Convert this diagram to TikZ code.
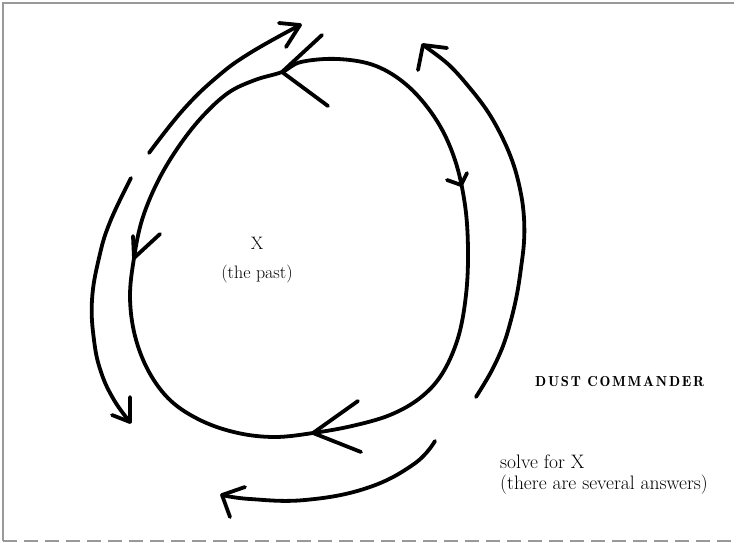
\documentclass[tikz,border=0pt]{standalone}
\usepackage{fontspec}
\newfontfamily\spacedfont{lmromandemi10-regular.otf}[LetterSpace=12]
\usetikzlibrary{positioning}
\tikzset{
  pen/.style={line width=3.8pt,line cap=round,line join=round},
  txt/.style={font=\fontsize{19.5}{23}\selectfont,inner sep=0pt},
  midtxt/.style={font=\fontsize{18}{22}\selectfont,inner sep=0pt},
  caps/.style={font=\spacedfont\fontsize{14.5}{16}\selectfont,inner sep=0pt},
  scanframe/.style={draw=black!40,line width=1.2pt}
}
\begin{document}
\begin{tikzpicture}[x=1pt,y=-1pt]
  \useasboundingbox (0,0) rectangle (737,543);
  % scanned page edge
  \draw[scanframe] (3,541) -- (3,3) -- (734,3);
  \draw[scanframe,dash pattern=on 14pt off 7pt] (3,541) -- (734,541);

  % the loop
  \draw[pen] plot[smooth cycle,tension=0.6] coordinates {
    (282,72) (301,62) (338,59) (376,66) (409,87) (437,121) (455,160)
    (465,205) (468,250) (466,295) (458,338) (442,374) (420,398)
    (390,415) (352,426) (313,433) (275,437) (238,433) (202,421)
    (171,401) (149,372) (135,336) (130,297) (134,258) (142,220)
    (157,183) (177,149) (201,118) (228,93) (255,80)};
  \coordinate (toptip) at (282,72);
  \coordinate (righttip) at (461,185);
  \coordinate (bottomtip) at (313,433);
  \coordinate (lefttip) at (134,258);
  \draw[pen] (toptip) -- ++(40,-37) (toptip) -- ++(46,34);
  \draw[pen] (righttip) -- ++(6,-12) (righttip) -- ++(-14,-5);
  \draw[pen] (bottomtip) -- ++(45,-32) (bottomtip) -- ++(48,19);
  \draw[pen] (lefttip) -- ++(-1,-22) (lefttip) -- ++(26,-24);

  % outer arrows
  \draw[pen] plot[smooth,tension=0.7] coordinates {
    (149,153) (183,110) (217,77) (250,53) (300,25)};
  \coordinate (nwtip) at (300,25);
  \draw[pen] (nwtip) -- ++(-21,-2) (nwtip) -- ++(-14,22);

  \draw[pen] plot[smooth,tension=0.6] coordinates {
    (476,397) (491,372) (503,346) (511,320) (517,294) (521,268)
    (524,242) (524,218) (521,194) (514,166) (503,139) (488,112)
    (469,87) (448,64) (423,45)};
  \coordinate (netip) at (423,45);
  \draw[pen] (netip) -- ++(24,3) (netip) -- ++(-5,25);

  \draw[pen] plot[smooth,tension=0.7] coordinates {
    (131,178) (110,222) (99,258) (92,300) (94,340) (101,372)
    (114,400) (130,422)};
  \coordinate (swtip) at (130,422);
  \draw[pen] (swtip) -- ++(0,-25) (swtip) -- ++(-18,-7);

  \draw[pen] plot[smooth,tension=0.7] coordinates {
    (435,441) (414,464) (367,488) (305,500) (250,499) (222,495)};
  \coordinate (stip) at (222,495);
  \draw[pen] (stip) -- ++(23,-8) (stip) -- ++(8,22);

  % texts
  \node[midtxt,anchor=base] (x) at (257,249) {X};
  \node[midtxt,anchor=base] (past) at ([yshift=-29pt]x.base) {(the past)};
  \node[caps,anchor=base west] (dust) at (535,386) {DUST COMMANDER};
  \node[txt,anchor=base west] (solve) at (500,468) {solve for X};
  \node[txt,anchor=base west] (answers) at ([yshift=-21pt]solve.base west)
    {(there are several answers)};
\end{tikzpicture}
\end{document}
